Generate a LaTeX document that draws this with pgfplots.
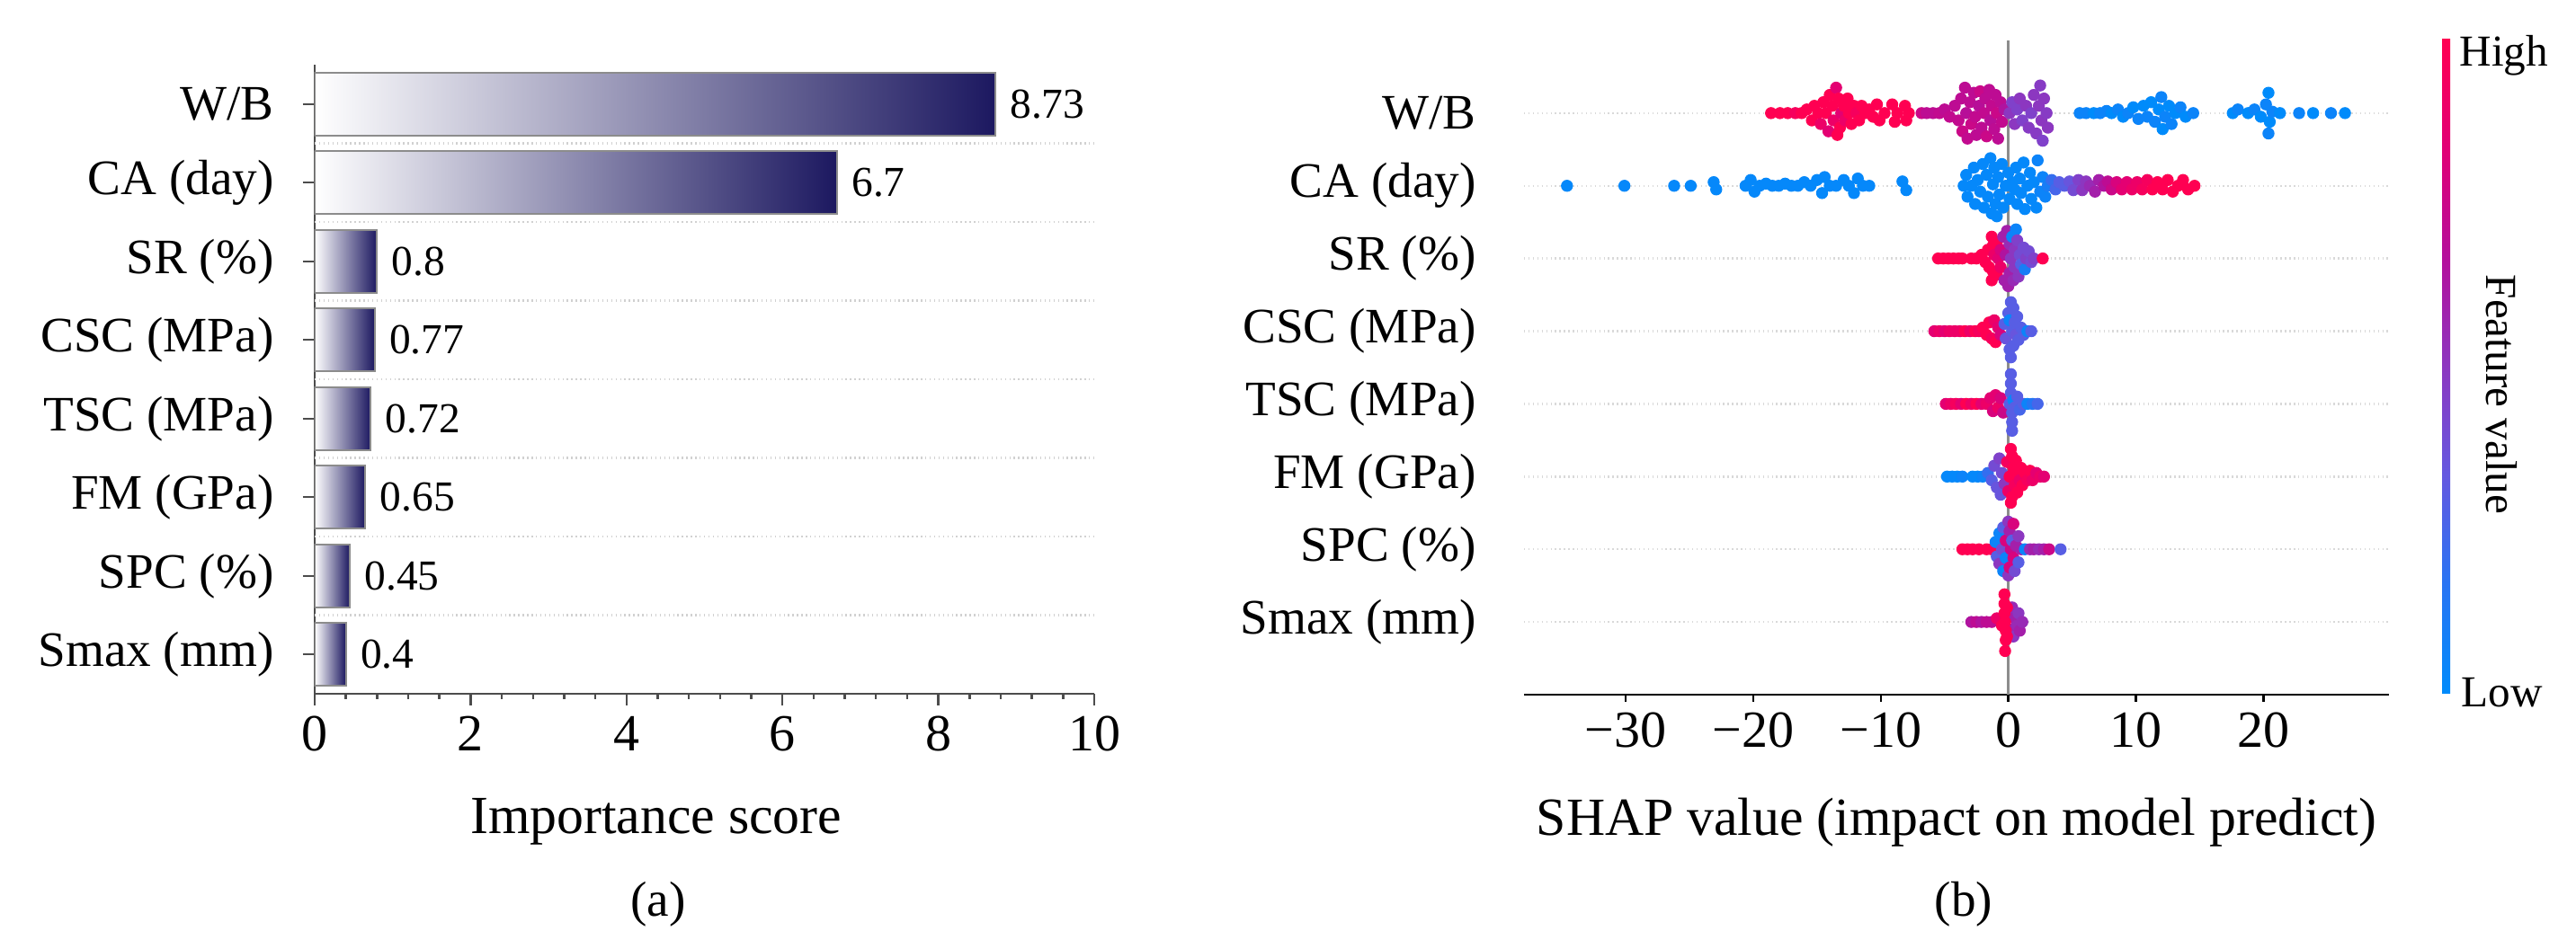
\documentclass[border=0pt]{standalone}
\usepackage{fontspec}
\setmainfont{Liberation Serif}
\usepackage{pgfplots}
\pgfplotsset{compat=1.18}
\definecolor{navybar}{RGB}{28,24,96}
\pgfdeclareverticalshading{shapbar}{100bp}{rgb(0bp)=(0,0.545,0.984); rgb(25bp)=(0,0.545,0.984); rgb(33.33bp)=(0.157,0.455,0.953); rgb(41.67bp)=(0.392,0.345,0.878); rgb(50bp)=(0.549,0.216,0.753); rgb(58.33bp)=(0.706,0.059,0.608); rgb(66.67bp)=(0.882,0,0.459); rgb(75bp)=(1,0,0.322); rgb(100bp)=(1,0,0.322)}
\newcommand{\tickfont}{\fontsize{16.5}{19}\selectfont}
\newcommand{\labfont}{\fontsize{15.7}{18}\selectfont}
\newcommand{\xlabfont}{\fontsize{17}{20}\selectfont}
\newcommand{\valfont}{\fontsize{13.5}{16}\selectfont}
\newcommand{\cbfont}{\fontsize{14}{16}\selectfont}
\pgfplotsset{
  shapdot/.style={scatter, only marks, mark=*, mark size=1.75pt,
    scatter/use mapped color={draw=mapped color, fill=mapped color},
    line width=0.3pt, point meta=explicit},
  impbar/.style={xbar, bar width=0.8, bar shift=0pt, draw=black!45, line width=0.6pt,
    left color=white, right color=navybar},
}
\begin{document}
\begin{tikzpicture}
\useasboundingbox (0,0) rectangle (28.65,10.46);
% ---------------- (a) importance bars ----------------
\begin{axis}[
  at={(3.50cm,2.74cm)}, anchor=south west,
  scale only axis, width=8.67cm, height=7.00cm,
  xmin=0, xmax=10, ymin=-0.5, ymax=7.5,
  axis x line*=bottom, axis y line*=left,
  xtick={0,2,4,6,8,10}, xticklabels={0,2,4,6,8,10}, minor x tick num=4,
  ytick={0,...,7},
  yticklabels={Smax (mm),SPC (\%),FM (GPa),TSC (MPa),CSC (MPa),SR (\%),CA (day),W/B},
  extra y ticks={0.5,1.5,2.5,3.5,4.5,5.5,6.5}, extra y tick labels={},
  extra y tick style={major tick length=0pt, ymajorgrids=true,
    grid style={densely dotted, black!18, line width=0.7pt}},
  tick align=outside, major tick length=0.13cm, minor tick length=0.06cm,
  axis line style={black!70, line width=0.7pt},
  every tick/.style={black!70, line width=0.7pt},
  xticklabel style={font=\tickfont},
  yticklabel style={font=\labfont, xshift=-0.2cm},
  xlabel={Importance score}, xlabel style={font=\xlabfont, at={(axis description cs:0.438,0)}, anchor=base, yshift=-1.56cm},
]
\addplot[impbar] coordinates {(8.73,7)};
\addplot[impbar] coordinates {(6.7,6)};
\addplot[impbar] coordinates {(0.8,5)};
\addplot[impbar] coordinates {(0.77,4)};
\addplot[impbar] coordinates {(0.72,3)};
\addplot[impbar] coordinates {(0.65,2)};
\addplot[impbar] coordinates {(0.45,1)};
\addplot[impbar] coordinates {(0.4,0)};
\addplot[only marks, mark=none, point meta=explicit symbolic, nodes near coords,
  every node near coord/.append style={anchor=west, font=\valfont, text=black, xshift=0.04cm}] coordinates {
  (8.73,7) [8.73] (6.7,6) [6.7] (0.8,5) [0.8] (0.77,4) [0.77] (0.72,3) [0.72] (0.65,2) [0.65] (0.45,1) [0.45] (0.4,0) [0.4]};
\end{axis}
% ---------------- (b) SHAP beeswarm ----------------
\begin{axis}[
  at={(16.95cm,2.73cm)}, anchor=south west,
  scale only axis, width=9.62cm, height=7.28cm,
  xmin=-37.97, xmax=29.85, ymin=-1, ymax=8,
  axis x line*=bottom, axis y line*=left,
  y axis line style={draw=none},
  ytick style={draw=none},
  xtick={-30,-20,-10,0,10,20}, xticklabels={−30,−20,−10,0,10,20},
  ytick={0,...,7},
  yticklabels={Smax (mm),SPC (\%),FM (GPa),TSC (MPa),CSC (MPa),SR (\%),CA (day),W/B},
  ymajorgrids, grid style={densely dotted, black!15, line width=0.7pt},
  tick align=outside, major tick length=0.08cm,
  x axis line style={black, line width=0.8pt},
  xtick style={black, line width=0.7pt},
  xticklabel style={font=\tickfont},
  yticklabel style={font=\labfont, xshift=-0.33cm},
  xlabel={SHAP value (impact on model predict)}, xlabel style={font=\xlabfont, at={(axis description cs:0.5,0)}, anchor=base, yshift=-1.57cm},
  colormap={shap}{rgb255=(0,139,251) rgb255=(40,116,243) rgb255=(100,88,224) rgb255=(140,55,192) rgb255=(180,15,155) rgb255=(225,0,117) rgb255=(255,0,82)},
  point meta min=0, point meta max=1,
]
\addplot[black!45, line width=0.8pt] coordinates {(0,-1) (0,8)};
% W/B
\addplot[shapdot] table[x=x, y expr=\thisrow{d}+7, meta=c] {
x d c
-18.6 0 1
-17.9 0 1
-17.3 0 1
-16.7 0 0.95
-16.2 0 1
-15.8 0.05 1
-15.4 -0.1 1
-15.2 0.1 1
-14.9 0 1
-14.7 -0.15 0.9
-14.5 0.15 1
-14.3 0 1
-14.1 -0.25 0.85
-14.0 0.25 1
-13.8 0.1 1
-13.7 -0.1 0.9
-13.5 0.35 0.85
-13.4 -0.3 1
-13.3 0.2 1
-13.2 -0.2 1
-13.1 0 0.85
-12.9 0.1 1
-12.8 -0.1 0.9
-12.6 0.2 1
-12.5 0 1
-12.3 -0.15 1
-12.1 0.1 1
-11.9 0 0.95
-11.7 -0.1 1
-11.5 0.1 1
-11.2 0 1
-10.9 0.05 1
-10.6 -0.05 1
-10.3 0.12 1
-10.1 -0.1 1
-9.7 0 1
-9.1 0.12 1
-8.9 -0.12 1
-8.7 0 1
-8.1 0.1 1
-8.0 -0.1 1
-7.8 0 1
-6.8 0 0.75
-6.4 0 0.7
-5.9 0 0.7
-5.4 0 0.72
-5.0 0.05 0.7
-4.6 -0.05 0.72
-4.2 0.1 0.7
-3.9 -0.1 0.72
-3.7 0.2 0.7
-3.6 -0.25 0.75
-3.4 0.35 0.7
-3.3 0 0.68
-3.2 -0.35 0.72
-3.0 0.15 0.7
-2.9 -0.15 0.75
-2.7 0.28 0.7
-2.6 -0.05 0.72
-2.5 -0.3 0.7
-2.3 0.1 0.68
-2.2 0.3 0.75
-2.1 -0.2 0.7
-1.9 0 0.72
-1.8 0.2 0.7
-1.7 -0.32 0.75
-1.5 0.32 0.7
-1.4 -0.1 0.68
-1.3 0.1 0.72
-1.1 -0.22 0.7
-1.0 0.25 0.7
-0.9 0 0.75
-0.8 -0.35 0.7
-0.6 0.15 0.7
-0.5 -0.12 0.72
-0.3 0.05 0.65
0.1 0 0.5
0.3 0.15 0.45
0.5 -0.15 0.5
0.7 0.05 0.45
0.9 0.2 0.5
1.1 -0.1 0.45
1.4 0.1 0.5
1.6 -0.2 0.48
1.8 0 0.45
2.0 0.25 0.5
2.2 -0.28 0.48
2.4 0.1 0.5
2.5 0.38 0.48
2.6 -0.1 0.5
2.7 -0.38 0.45
2.8 0.2 0.5
3.0 0 0.48
3.1 -0.2 0.5
5.6 0 0.05
6.1 0 0.05
6.7 0 0.0
7.2 0 0.05
7.7 0.03 0.05
8.1 0 0.0
8.6 0.05 0.05
9.0 -0.05 0.0
9.4 0 0.05
9.8 0.08 0.0
10.2 -0.08 0.05
10.6 0.1 0.0
10.9 -0.05 0.05
11.2 0.15 0.0
11.5 -0.12 0.05
11.8 0.05 0.0
12.0 0.22 0.05
12.1 -0.22 0.0
12.3 -0.05 0.05
12.6 0.1 0.0
12.8 -0.15 0.05
13.1 0 0.0
13.5 0.08 0.05
13.9 -0.05 0.0
14.5 0 0.05
17.6 0 0.0
18.0 0.05 0.05
18.8 0 0.0
19.3 0.05 0.05
19.8 -0.05 0.0
20.2 0.12 0.05
20.4 0.28 0.0
20.4 -0.28 0.05
20.5 -0.12 0.0
20.7 0.02 0.05
21.3 0 0.0
22.8 0 0.05
23.9 0 0.0
25.3 0 0.05
26.4 0 0.0
};
% CA
\addplot[shapdot] table[x=x, y expr=\thisrow{d}+6, meta=c] {
x d c
-34.6 0 0.02
-30.1 0 0.02
-26.2 0 0.02
-24.9 0 0.02
-23.1 0.05 0.02
-22.9 -0.05 0.02
-20.6 0 0.02
-20.2 0.08 0.02
-19.9 -0.08 0.02
-19.5 0 0.02
-19.0 0.03 0.02
-18.5 0 0.02
-18.0 0 0.02
-17.5 0.03 0.02
-17.0 0 0.02
-16.5 0 0.02
-16.0 0.05 0.02
-15.5 0 0.02
-15.0 0.08 0.02
-14.6 -0.1 0.02
-14.4 0.12 0.02
-14.0 0 0.02
-13.5 0 0.02
-12.9 0.08 0.02
-12.5 0 0.02
-12.1 -0.1 0.02
-11.8 0.1 0.02
-11.4 0 0.02
-10.9 0 0.02
-8.3 0.06 0.02
-8.0 -0.06 0.02
-3.5 0 0.02
-3.3 0.15 0.02
-3.2 -0.15 0.02
-2.9 0 0.02
-2.7 0.25 0.02
-2.6 -0.25 0.02
-2.4 0.08 0.02
-2.2 -0.08 0.02
-2.0 0.3 0.02
-1.9 -0.3 0.02
-1.7 0.15 0.02
-1.6 -0.15 0.02
-1.4 0.38 0.02
-1.3 -0.38 0.02
-1.2 0.02 0.02
-1.1 0.25 0.02
-1.0 -0.25 0.02
-0.9 -0.42 0.02
-0.8 0.12 0.02
-0.7 -0.12 0.02
-0.5 0.3 0.02
-0.4 -0.3 0.02
-0.2 0 0.02
0.0 0.18 0.02
0.1 -0.18 0.02
0.3 0.05 0.02
0.5 -0.05 0.02
0.6 0.25 0.02
0.7 -0.25 0.02
0.9 0.1 0.02
1.0 -0.1 0.02
1.2 0.32 0.02
1.3 -0.32 0.02
1.5 0 0.02
1.7 0.18 0.02
1.8 -0.18 0.02
2.0 0.05 0.02
2.2 -0.3 0.02
2.3 0.35 0.05
2.5 -0.08 0.05
2.7 0.12 0.05
2.9 -0.15 0.05
3.1 0 0.1
3.4 0.08 0.2
3.7 -0.05 0.25
4.0 0.05 0.3
4.4 0 0.3
4.8 0.06 0.35
5.1 -0.06 0.4
5.5 0.08 0.45
5.8 -0.06 0.5
6.1 0.06 0.5
6.4 0 0.55
6.8 -0.08 0.6
7.1 0.08 0.6
7.5 0 0.65
7.8 0.06 0.7
8.1 -0.05 0.75
8.5 0.05 0.8
8.9 -0.05 0.85
9.3 0.05 0.85
9.7 -0.05 0.9
10.1 0.05 0.9
10.5 -0.05 0.95
10.9 0.08 0.95
11.3 -0.05 1
11.7 0.05 1
12.1 -0.05 1
12.5 0.08 1
12.9 -0.08 1
13.3 0 1
13.7 0.08 1
14.1 -0.05 1
14.6 0 1
};
% SR
\addplot[shapdot] table[x=x, y expr=\thisrow{d}+5, meta=c] {
x d c
-5.5 0 1
-5.1 0 1
-4.7 0 1
-4.3 0 1
-3.9 0 1
-3.6 0 1
-2.9 0 1
-2.5 0 1
-2.1 0.05 1
-1.8 -0.05 1
-1.6 0.12 1
-1.5 -0.12 1
-1.3 0.3 1
-1.3 -0.3 1
-1.2 0.18 1
-1.2 -0.18 1
-1.1 0.05 0.9
-0.9 0.22 1
-0.9 -0.22 1
-0.8 0 0.85
-0.6 0.12 0.8
-0.6 -0.12 0.9
-0.4 0.3 0.6
-0.3 -0.3 0.6
-0.2 0.05 0.65
-0.1 0.38 0.6
0.0 -0.38 0.6
0.1 0.2 0.55
0.1 -0.2 0.6
0.2 0.0 0.5
0.3 0.3 0.05
0.4 -0.3 0.55
0.5 0.12 0.5
0.5 -0.12 0.5
0.6 0.4 0.05
0.7 0.25 0.45
0.8 -0.25 0.5
0.9 0.05 0.4
1.0 -0.08 0.3
1.2 0.15 0.4
1.3 -0.15 0.1
1.4 0.0 0.45
1.6 0.1 0.4
1.8 -0.05 0.4
2.0 0.0 0.45
2.7 0 1
};
% CSC
\addplot[shapdot] table[x=x, y expr=\thisrow{d}+4, meta=c] {
x d c
-5.8 0 0.85
-5.4 0 0.9
-5.0 0 0.85
-4.6 0 0.9
-4.2 0 0.9
-3.8 0 0.9
-3.4 0 1
-3.0 0 0.9
-2.6 0 1
-2.3 0 0.95
-2.0 0.05 1
-1.7 -0.05 1
-1.5 0.12 1
-1.3 -0.1 0.95
-1.1 0.15 0.9
-1.0 -0.15 1
-0.8 0.05 0.85
-0.6 -0.05 0.8
-0.3 0.1 0.3
-0.2 -0.1 0.35
0.0 0.25 0.3
0.1 0.15 0.05
0.1 -0.25 0.3
0.2 0.4 0.3
0.2 -0.36 0.3
0.3 0.0 0.3
0.4 0.32 0.3
0.4 -0.2 0.3
0.5 0.12 0.3
0.6 -0.05 0.35
0.7 0.2 0.3
0.8 -0.12 0.3
1.0 0.05 0.3
1.2 -0.05 0.3
1.5 0 0.05
1.8 0 0.3
};
% TSC
\addplot[shapdot] table[x=x, y expr=\thisrow{d}+3, meta=c] {
x d c
-4.9 0 0.85
-4.5 0 0.9
-4.1 0 0.95
-3.7 0 0.85
-3.3 0 1
-2.9 0 0.9
-2.5 0 1
-2.1 0 0.85
-1.7 0 0.9
-1.4 0.08 0.85
-1.2 -0.1 0.8
-1.0 0.12 0.85
-0.8 -0.05 0.9
-0.6 0.08 0.8
-0.4 -0.12 0.75
0.1 0 0.3
0.2 0.41 0.3
0.2 0.28 0.3
0.2 0.15 0.3
0.3 -0.12 0.3
0.3 -0.25 0.3
0.3 -0.37 0.3
0.4 0.05 0.05
0.5 -0.05 0.3
0.7 0.1 0.3
0.9 -0.08 0.25
1.2 0 0.3
1.5 0 0.05
1.9 0 0.15
2.3 0 0.25
};
% FM
\addplot[shapdot] table[x=x, y expr=\thisrow{d}+2, meta=c] {
x d c
-4.8 0 0.02
-4.4 0 0.02
-4.0 0 0.02
-3.6 0 0.05
-2.8 0 0.02
-2.4 0 0.02
-2.0 0 0.05
-1.6 0.05 0.2
-1.3 -0.05 0.3
-1.1 0.15 0.4
-0.9 -0.15 0.35
-0.7 0.25 0.45
-0.6 -0.25 0.35
-0.5 0.05 0.4
-0.3 -0.1 0.5
-0.1 0.2 0.95
0.0 -0.2 0.9
0.1 0.0 1
0.2 0.38 1
0.2 -0.36 1
0.3 0.28 1
0.3 -0.28 1
0.4 0.12 1
0.5 -0.12 0.95
0.6 0.22 1
0.7 -0.22 1
0.8 0.05 1
0.9 -0.05 0.9
1.0 0.12 1
1.1 -0.12 1
1.3 0.05 1
1.5 -0.05 0.95
1.7 0.08 1
1.9 -0.05 0.9
2.2 0.05 0.85
2.5 0 0.9
2.8 0 0.85
};
% SPC
\addplot[shapdot] table[x=x, y expr=\thisrow{d}+1, meta=c] {
x d c
-3.6 0 1
-3.2 0 1
-2.8 0 1
-2.3 0 1
-1.7 0 1
-1.3 0 1
-1.0 0.1 0.05
-0.9 -0.1 0.3
-0.7 0.22 0.05
-0.7 -0.2 0.5
-0.5 0.0 0.4
-0.4 0.3 0.3
-0.4 -0.3 0.05
-0.2 0.12 0.8
-0.2 -0.12 0.05
0.0 0.38 0.5
0.0 -0.36 0.5
0.1 0.25 0.6
0.1 -0.25 0.8
0.2 0.0 0.75
0.3 0.12 0.3
0.4 -0.12 0.8
0.4 0.35 0.8
0.5 -0.3 0.4
0.6 0.05 0.6
0.8 0.18 0.5
0.8 -0.18 0.3
1.0 0.0 0.6
1.3 0 0.05
1.7 0 0.55
2.0 0 0.6
2.4 0 0.55
2.8 0 0.6
3.2 0 0.75
4.1 0 0.3
};
% Smax
\addplot[shapdot] table[x=x, y expr=\thisrow{d}+0, meta=c] {
x d c
-2.9 0 0.65
-2.5 0 0.7
-2.1 0 0.65
-1.7 0 0.7
-1.3 0 0.7
-0.9 0.05 0.9
-0.5 -0.05 1
0.1 0.1 0.55
0.2 -0.1 0.6
0.3 0.2 0.55
0.4 -0.2 0.5
0.5 0.05 0.6
0.7 -0.05 0.55
0.8 0.12 0.5
0.9 -0.12 0.6
1.1 0 0.55
-0.3 0.38 1
-0.3 0.25 1
-0.3 0.12 1
-0.25 0.0 1
-0.2 -0.12 1
-0.2 -0.25 1
-0.25 -0.4 1
-0.1 0.2 1
-0.1 -0.2 1
};
\end{axis}
% colour bar
\shade[shading=shapbar] (27.16,2.74) rectangle (27.25,10.02);
\node[anchor=base west, font=\cbfont, inner sep=0pt] at (27.35,9.72) {High};
\node[anchor=base west, font=\cbfont, inner sep=0pt] at (27.37,2.59) {Low};
\node[rotate=-90, font=\cbfont, inner sep=0pt] at (27.82,6.07) {Feature value};
% panel captions
\node[anchor=base, font=\labfont, inner sep=0pt] at (7.32,0.26) {(a)};
\node[anchor=base, font=\labfont, inner sep=0pt] at (21.84,0.26) {(b)};
\end{tikzpicture}
\end{document}
